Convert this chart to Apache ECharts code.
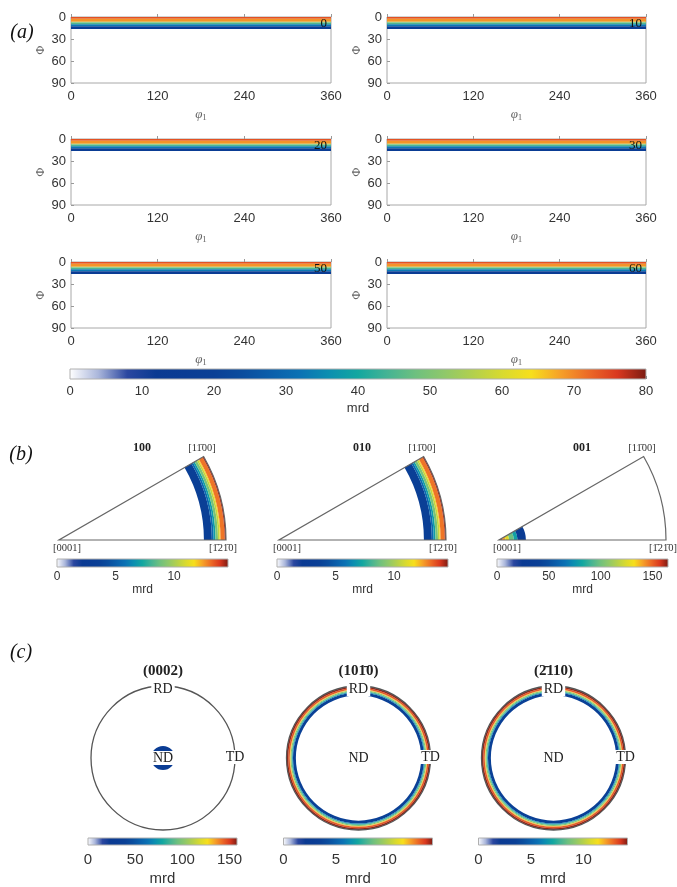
<!DOCTYPE html>
<html>
  <head>
    <meta charset="utf-8" />
    <title></title>
    <style type="text/css">
      html,
      body {
        margin: 0;
        padding: 0;
        background: #fff;
      }
      #chart {
        width: 677px;
        height: 887px;
      }
    </style>
  </head>
  <body>
    <div id="chart"></div>
    <script src="https://cdn.jsdelivr.net/npm/echarts/dist/echarts.min.js"></script>
    <script type="text/javascript">
      // colour map shared by every panel (white -> blue -> teal -> yellow -> red)
      var colormap = [
        "#ffffff", "#aab6db", "#2b47a0", "#0b3a92", "#0a3c94", "#0a4096",
        "#0a4d9e", "#0a5fab", "#0b72b4", "#0b8fb0", "#13a7a0", "#44b394",
        "#6ec07f", "#8fc86a", "#b3d04c", "#d8da2f", "#f7df1c", "#f6a128",
        "#ec6926", "#d9381f", "#7a1b12"
      ];

      // (a) ODF sections, phi2 = sections; intensity only varies with Phi
      var sections = [0, 10, 20, 30, 50, 60];
      var phi1Range = [0, 360];
      var odfPhi = [0, 2.5, 6.5, 7.5, 10, 12.5, 16.5];
      var odfMrd = [74, 69, 56, 45, 33, 16];
      var odfMax = 80;

      // (b) inverse pole figures, angle from [0001] in degrees
      var ipfTitles = ["100", "010", "001"];
      var ipfPrismAngle = [78.1, 82.4, 83.4, 84.4, 85.7, 86.6, 87.1, 89.3, 90];
      var ipf100Mrd = [3.5, 5.5, 7, 9, 10.5, 11.8, 13, 14.2];
      var ipf010Mrd = [3.5, 5.5, 7, 9, 10.5, 11.8, 13, 14.2];
      var ipf001Angle = [0, 2, 3.5, 5.5, 8, 10, 14.5];
      var ipf001Mrd = [152, 140, 125, 99, 80, 30];
      var ipfMax = [14.6, 14.6, 165];
      var ipfTicks = [5, 5, 50];

      // (c) pole figures, tilt from ND in degrees
      var pfTitles = ["(0002)", "(101\u03040)", "(2\u0304110)"];
      var pf0002Angle = [0, 3, 5, 7, 15];
      var pf0002Mrd = [150, 110, 70, 30];
      var pfPrismAngle = [78.3, 81.9, 82.8, 83.7, 85.0, 85.4, 86.0, 87.9, 90];
      var pf1010Mrd = [3.5, 6, 7.5, 9, 10.5, 11.8, 13, 14];
      var pf2110Mrd = [3.5, 6, 7.5, 9, 10.5, 11.8, 13, 14];
      var pfMax = [158, 14.2, 14.2];
      var pfTicks = [50, 5, 5];

      var serif = '"Liberation Serif", "DejaVu Serif", serif';
      var sans = '"Liberation Sans", Arial, sans-serif';

      var chart = echarts.init(document.getElementById("chart"));

      var grids = [], xAxes = [], yAxes = [], series = [], graphics = [];

      function bands(edges, vals) {
        return vals.map(function (v, i) {
          return [edges[i], edges[i + 1], v];
        });
      }
      function addGrid(g, xa, ya) {
        grids.push(g);
        var i = grids.length - 1;
        xa.gridIndex = i;
        ya.gridIndex = i;
        xAxes.push(xa);
        yAxes.push(ya);
        return i;
      }
      function addSeries(s) {
        s.type = "custom";
        s.silent = true;
        s.animation = false;
        series.push(s);
        return series.length - 1;
      }
      function text(x, y, s, st) {
        var style = { text: s, fill: "#222", fontFamily: serif, fontSize: 13, align: "center", verticalAlign: "middle" };
        for (var k in st) style[k] = st[k];
        graphics.push({ type: "text", x: x, y: y, z: 100, style: style });
      }

      // render helpers
      function renderStrip(params, api) {
        var a = api.coord([phi1Range[0], api.value(0)]);
        var b = api.coord([phi1Range[1], api.value(1)]);
        return {
          type: "rect",
          shape: { x: a[0], y: a[1], width: b[0] - a[0], height: b[1] - a[1] },
          style: { fill: api.visual("color") },
        };
      }
      function radii(api) {
        var c = api.coord([0, 0]);
        return {
          c: c,
          r0: api.coord([api.value(0), 0])[0] - c[0],
          r1: api.coord([api.value(1), 0])[0] - c[0],
        };
      }
      function renderWedge(params, api) {
        var p = radii(api);
        return {
          type: "sector",
          shape: { cx: p.c[0], cy: p.c[1], r0: p.r0, r: p.r1, startAngle: -Math.PI / 6, endAngle: 0, clockwise: true },
          style: { fill: api.visual("color") },
        };
      }
      function renderWedgeOutline(params, api) {
        var p = radii(api);
        return {
          type: "sector",
          shape: { cx: p.c[0], cy: p.c[1], r0: 0, r: p.r1, startAngle: -Math.PI / 6, endAngle: 0, clockwise: true },
          style: { fill: "none", stroke: "#666", lineWidth: 1.2 },
        };
      }
      function renderRing(params, api) {
        var p = radii(api);
        return {
          type: "ring",
          shape: { cx: p.c[0], cy: p.c[1], r0: p.r0, r: p.r1 },
          style: { fill: api.visual("color") },
        };
      }
      function renderCircleOutline(params, api) {
        var p = radii(api);
        return {
          type: "circle",
          shape: { cx: p.c[0], cy: p.c[1], r: p.r1 },
          style: { fill: "none", stroke: "#555", lineWidth: 1.3 },
        };
      }
      var cbStops = colormap.map(function (c, i) {
        return { offset: i / (colormap.length - 1), color: c };
      });
      function renderColorbar(params, api) {
        var a = api.coord([api.value(0), 0]);
        var b = api.coord([api.value(1), 1]);
        return {
          type: "rect",
          shape: { x: a[0], y: b[1], width: b[0] - a[0], height: a[1] - b[1] },
          style: { fill: new echarts.graphic.LinearGradient(0, 0, 1, 0, cbStops), stroke: "#b0b0b0", lineWidth: 1 },
        };
      }
      function addColorbar(left, top, width, height, max, interval, font, margin, gap, ticks) {
        var gi = addGrid(
          { left: left, top: top, width: width, height: height },
          {
            type: "value", min: 0, max: max, interval: interval,
            axisLine: { show: false }, splitLine: { show: false },
            axisTick: { show: ticks, inside: true, length: 3, lineStyle: { color: "#666" } },
            axisLabel: { fontFamily: sans, fontSize: font, color: "#333", margin: margin, showMaxLabel: max % interval === 0 },
            name: "mrd", nameLocation: "middle", nameGap: gap,
            nameTextStyle: { fontFamily: sans, fontSize: font, color: "#333" },
          },
          { type: "value", min: 0, max: 1, show: false }
        );
        addSeries({ xAxisIndex: gi, yAxisIndex: gi, data: [[0, max]], renderItem: renderColorbar, z: 5 });
      }

      // ---- (a) ----
      var odfLeft = [71, 387], odfWidth = [260, 259], odfTop = [17, 139, 262], odfH = 66;
      var odfSeries = [];
      sections.forEach(function (sec, k) {
        var col = k % 2, row = Math.floor(k / 2);
        var gi = addGrid(
          { left: odfLeft[col], top: odfTop[row], width: odfWidth[col], height: odfH, show: true, borderColor: "#a8a8a8", borderWidth: 1 },
          {
            type: "value", min: 0, max: 360, interval: 120,
            axisLine: { show: false }, splitLine: { show: false },
            axisTick: { inside: true, length: 3, lineStyle: { color: "#999" } },
            axisLabel: { fontFamily: sans, fontSize: 13, color: "#333", margin: 7 },
            name: "{a|φ}{b|1}", nameLocation: "middle", nameGap: 24,
            nameTextStyle: {
              rich: {
                a: { fontFamily: serif, fontStyle: "italic", fontSize: 13, color: "#666" },
                b: { fontFamily: serif, fontSize: 9, color: "#666", padding: [6, 0, 0, 0] },
              },
            },
          },
          {
            type: "value", inverse: true, min: 0, max: 90, interval: 30,
            axisLine: { show: false }, splitLine: { show: false },
            axisTick: { inside: true, length: 3, lineStyle: { color: "#999" } },
            axisLabel: { fontFamily: sans, fontSize: 13, color: "#333", margin: 5 },
            name: "Φ", nameLocation: "middle", nameGap: 24, nameRotate: 90,
            nameTextStyle: { fontFamily: serif, fontSize: 12, color: "#666" },
          }
        );
        odfSeries.push(addSeries({ xAxisIndex: gi, yAxisIndex: gi, data: bands(odfPhi, odfMrd), renderItem: renderStrip }));
        text(odfLeft[col] + odfWidth[col] - 4, odfTop[row] + 7, String(sec), { align: "right", fontSize: 13, fill: "#111" });
      });
      addColorbar(70, 369, 576, 10, odfMax, 10, 13, 6, 23, true);
      text(22, 33, "(a)", { fontStyle: "italic", fontSize: 20, fill: "#111" });

      // ---- (b) ----
      var ipfVertexX = [59, 279, 499], ipfVertexY = 540, ipfR = 167;
      var ipfData = [bands(ipfPrismAngle, ipf100Mrd), bands(ipfPrismAngle, ipf010Mrd), bands(ipf001Angle, ipf001Mrd)];
      var ipfSeries = [];
      ipfTitles.forEach(function (t, k) {
        var x0 = ipfVertexX[k];
        var gi = addGrid(
          { left: x0, top: ipfVertexY - 90, width: ipfR, height: 90 },
          { type: "value", min: 0, max: 90, show: false },
          { type: "value", min: 0, max: 90, show: false }
        );
        ipfSeries.push(addSeries({ xAxisIndex: gi, yAxisIndex: gi, data: ipfData[k], renderItem: renderWedge }));
        addSeries({ xAxisIndex: gi, yAxisIndex: gi, data: [[0, 90]], renderItem: renderWedgeOutline, z: 4 });
        addColorbar(x0 - 2, 559, 171, 8, ipfMax[k], ipfTicks[k], 12, 4, 13, false);
        text(x0 + 83, 448, t, { fontWeight: "bold", fontSize: 12 });
        text(x0 + 143, 448, "[11\u030400]", { fontSize: 10.5, fill: "#333" });
        text(x0 + 8, 548, "[0001]", { fontSize: 10.5, fill: "#333" });
        text(x0 + 178, 548, "[1\u030421\u03040]", { fontSize: 10.5, fill: "#333", align: "right" });
      });
      text(21, 455, "(b)", { fontStyle: "italic", fontSize: 20, fill: "#111" });

      // ---- (c) ----
      var pfCx = [163, 358.5, 553.5], pfCy = 758, pfR = 72;
      var pfData = [bands(pf0002Angle, pf0002Mrd), bands(pfPrismAngle, pf1010Mrd), bands(pfPrismAngle, pf2110Mrd)];
      var pfSeries = [];
      pfTitles.forEach(function (t, k) {
        var cx = pfCx[k];
        var gi = addGrid(
          { left: cx - pfR, top: pfCy - pfR, width: 2 * pfR, height: 2 * pfR },
          { type: "value", min: -90, max: 90, show: false },
          { type: "value", min: -90, max: 90, show: false }
        );
        pfSeries.push(addSeries({ xAxisIndex: gi, yAxisIndex: gi, data: pfData[k], renderItem: renderRing }));
        addSeries({ xAxisIndex: gi, yAxisIndex: gi, data: [[0, 90]], renderItem: renderCircleOutline, z: 4 });
        addColorbar(cx - 75, 838, 149, 10, pfMax[k], pfTicks[k], 15, 7, 26, false);
        text(cx, 671, t, { fontWeight: "bold", fontSize: 15 });
        var box = { fontSize: 14, backgroundColor: "#fff", padding: [0, 2, 0, 2] };
        text(cx, 689, "RD", box);
        text(cx + pfR, 757, "TD", box);
        text(cx, 758, "ND", box);
      });
      text(21, 653, "(c)", { fontStyle: "italic", fontSize: 20, fill: "#111" });

      function vm(min, max, idx) {
        return { type: "continuous", show: false, min: min, max: max, dimension: 2, seriesIndex: idx, inRange: { color: colormap } };
      }

      var option = {
        backgroundColor: "#fff",
        animation: false,
        grid: grids,
        xAxis: xAxes,
        yAxis: yAxes,
        visualMap: [
          vm(0, odfMax, odfSeries),
          vm(0, ipfMax[0], [ipfSeries[0], ipfSeries[1]]),
          vm(0, ipfMax[2], [ipfSeries[2]]),
          vm(0, pfMax[0], [pfSeries[0]]),
          vm(0, pfMax[1], [pfSeries[1], pfSeries[2]]),
        ],
        graphic: graphics,
        series: series,
      };
      chart.setOption(option);
    </script>
  </body>
</html>
